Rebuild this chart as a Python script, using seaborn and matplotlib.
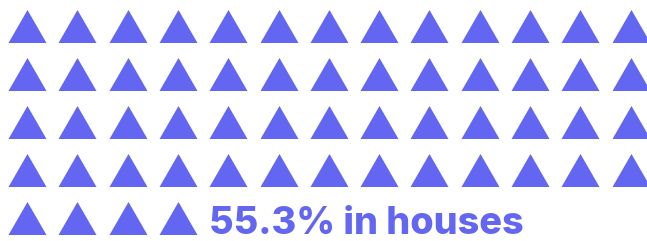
import pandas as pd
import seaborn as sns
import matplotlib.pyplot as plt
from matplotlib.path import Path

# dados do gráfico
n_icones = 56
n_colunas = 13
rotulo = '55.3% in houses'
cor = '#6366F1'

icones = pd.DataFrame({'i': range(n_icones)})
icones['coluna'] = icones['i'] % n_colunas
icones['linha'] = icones['i'] // n_colunas
icones['x'] = 27 + 50.3 * icones['coluna']
icones['y'] = 25.5 + 48 * icones['linha']

sns.set_theme(style='white')
plt.rcParams['font.family'] = ['Inter', 'DejaVu Sans']

fig = plt.figure(figsize=(6.47, 2.41), dpi=100)
ax = fig.add_axes([0, 0, 1, 1])

# triângulo um pouco mais largo que alto
triangulo = Path([(-19, -16.5), (19, -16.5), (0, 16.5), (-19, -16.5)],
                 [Path.MOVETO, Path.LINETO, Path.LINETO, Path.CLOSEPOLY])
lado = 38 * 72 / 100

sns.scatterplot(data=icones, x='x', y='y', marker=triangulo, s=lado ** 2,
                color=cor, linewidth=0, ax=ax, legend=False)

ax.text(209, 234, rotulo, color=cor, fontsize=27.2, fontweight='heavy',
        ha='left', va='baseline')

ax.set_xlim(0, 647)
ax.set_ylim(241, 0)
ax.axis('off')

fig.savefig('out.png', dpi=100)
